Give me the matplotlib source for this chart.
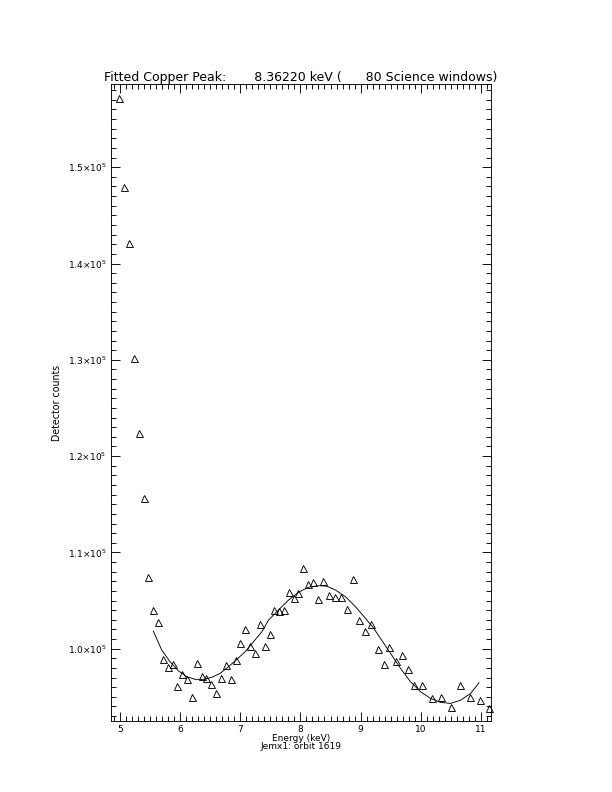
import matplotlib
matplotlib.use("Agg")
import matplotlib.pyplot as plt
from matplotlib.ticker import MultipleLocator, FuncFormatter

# measured spectrum points (energy in keV, detector counts)
energy = [4.99, 5.075, 5.158, 5.236, 5.314, 5.398, 5.474, 5.557, 5.636, 5.714,
          5.797, 5.880, 5.957, 6.035, 6.118, 6.201, 6.280, 6.363, 6.439, 6.522,
          6.606, 6.684, 6.767, 6.845, 6.928, 7.005, 7.083, 7.166, 7.245, 7.328,
          7.404, 7.488, 7.566, 7.649, 7.727, 7.804, 7.887, 7.965, 8.043, 8.126,
          8.203, 8.286, 8.376, 8.476, 8.576, 8.676, 8.780, 8.875, 8.980, 9.080,
          9.180, 9.285, 9.384, 9.479, 9.584, 9.684, 9.784, 9.884, 10.012, 10.178,
          10.333, 10.494, 10.656, 10.815, 10.977, 11.126]
counts = [157200, 147940, 142120, 130160, 122360, 115600, 107460, 104020, 102780, 98930,
          98130, 98380, 96090, 97370, 96880, 95010, 98540, 97190, 96950, 96330,
          95420, 96920, 98300, 96820, 98860, 100560, 102080, 100310, 99580, 102600,
          100310, 101560, 104020, 103920, 104020, 105900, 105270, 105820, 108360, 106760,
          106940, 105140, 107070, 105620, 105410, 105410, 104160, 107220, 103020, 101870,
          102600, 100000, 98410, 100180, 98750, 99380, 97920, 96190, 96190, 94900,
          94980, 93940, 96200, 94980, 94680, 93810]

# fitted curve
fit_energy = [5.557, 5.697, 5.835, 5.973, 6.113, 6.251, 6.389, 6.529, 6.667, 6.805,
              6.945, 7.083, 7.221, 7.361, 7.471, 7.637, 7.804, 7.970, 8.136, 8.303,
              8.443, 8.581, 8.747, 8.913, 9.080, 9.218, 9.329, 9.496, 9.662, 9.829,
              9.995, 10.161, 10.328, 10.494, 10.661, 10.827, 10.965]
fit_counts = [101840, 99860, 98650, 97710, 97090, 96820, 96820, 97030, 97440, 98130,
              98900, 99690, 100730, 101770, 102980, 104020, 105060, 105870, 106390, 106550,
              106490, 106100, 105410, 104370, 103160, 102120, 101080, 99520, 97960, 96570,
              95530, 94840, 94430, 94320, 94660, 95360, 96460]

peak_kev = "8.36220"
n_windows = 80

plt.rcParams['font.family'] = ['DejaVu Sans']

fig = plt.figure(figsize=(8.5, 11), dpi=72)
ax = fig.add_axes([0.1809, 0.0896, 0.6209, 0.8043])

ax.plot(energy, counts, linestyle='none', marker='^', markersize=7,
        markerfacecolor='none', markeredgecolor='black', markeredgewidth=0.9,
        clip_on=False)
ax.plot(fit_energy, fit_counts, color='black', linewidth=0.9)

ax.set_xlim(4.85, 11.16)
ax.set_ylim(92490, 158640)

ax.xaxis.set_major_locator(MultipleLocator(1))
ax.xaxis.set_minor_locator(MultipleLocator(0.1))
ax.yaxis.set_major_locator(MultipleLocator(10000))
ax.yaxis.set_minor_locator(MultipleLocator(1000))

def sci_fmt(v, pos):
  return r'%.1f$\times$10$^{5}$' % (v / 1e5)

ax.yaxis.set_major_formatter(FuncFormatter(sci_fmt))
ax.xaxis.set_major_formatter(FuncFormatter(lambda v, p: '%d' % v))

ax.tick_params(which='both', direction='in', top=True, right=True,
               labelsize=9, width=0.9, color='black')
ax.tick_params(which='major', length=9, pad=4)
ax.tick_params(which='minor', length=5)
for s in ax.spines.values():
  s.set_linewidth(0.9)

ax.set_title("Fitted Copper Peak:       %s keV (      %d Science windows)" % (peak_kev, n_windows),
             fontsize=12.5, pad=3)
ax.set_xlabel("Energy (keV)\nJemx1: orbit 1619", fontsize=9, linespacing=0.8, labelpad=0)
ax.set_ylabel("Detector counts", fontsize=9.5, labelpad=6)

fig.savefig("out.png", dpi=72)
